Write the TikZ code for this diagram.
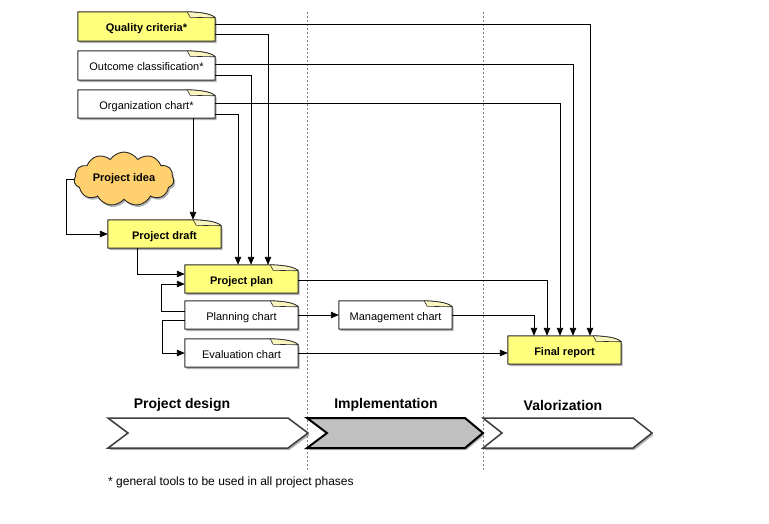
\documentclass[tikz,border=0pt]{standalone}
\usepackage{fontspec}
\setmainfont{Liberation Sans}
\usetikzlibrary{arrows.meta,shapes.symbols,shadows,backgrounds}
\definecolor{docyellow}{RGB}{255,255,125}
\definecolor{flapyellow}{RGB}{250,245,190}
\definecolor{cloudorange}{RGB}{255,208,110}
\definecolor{outline}{RGB}{40,40,40}
\definecolor{chevgray}{RGB}{192,192,192}
\tikzset{
  docnode/.style={draw=none, minimum width=113pt, minimum height=28pt, inner sep=0pt, text height=11pt, text depth=1pt, font=\fontsize{11}{13}\selectfont},
  bolddoc/.style={docnode, font=\fontsize{11}{13}\selectfont\bfseries},
  docline/.style={draw=outline, line width=1pt, line join=round},
  softshadow/.style={drop shadow={opacity=0.3, shadow xshift=1.5pt, shadow yshift=-2pt, fill=black}},
  arr/.style={draw=black, line width=0.9pt, -{Triangle[length=8pt,width=6.5pt]}},
  phase/.style={font=\fontsize{14}{16}\selectfont\bfseries, inner sep=0pt},
  chev/.style={draw=outline!90!white, line width=1.5pt, line join=miter, fill=white, softshadow},
  guide/.style={draw=gray, line width=0.8pt, dash pattern=on 2pt off 2pt}
}
\newcommand\drawdoc[2]{%
  \draw[docline, fill=#2, softshadow] (#1.south west) -- (#1.north west) -- ([xshift=-28pt]#1.north east)
    .. controls ([xshift=-14pt,yshift=-0.5pt]#1.north east) and ([xshift=-4pt,yshift=-2pt]#1.north east) .. ([yshift=-6pt]#1.north east)
    -- (#1.south east) -- cycle;
  \draw[draw=outline, line width=0.6pt, fill=flapyellow] ([xshift=-28pt]#1.north east) -- ([xshift=-25pt,yshift=-5.5pt]#1.north east) -- ([yshift=-6pt]#1.north east)
    .. controls ([xshift=-4pt,yshift=-2pt]#1.north east) and ([xshift=-14pt,yshift=-0.5pt]#1.north east) .. ([xshift=-28pt]#1.north east);
}
\begin{document}
\begin{tikzpicture}[x=1pt,y=-1pt]
\useasboundingbox (0,0) rectangle (769,523);
% nodes (text), outlines go on the background layer
\node[bolddoc, minimum width=137pt, minimum height=29pt] (qc) at (146.5,26.5) {Quality criteria*};
\node[docnode, minimum width=137pt, minimum height=29pt] (oc) at (146.5,65.5) {Outcome classification*};
\node[docnode, minimum width=137pt] (org) at (146.5,104) {Organization chart*};
\node[bolddoc] (draft) at (164.5,234) {Project draft};
\node[bolddoc] (plan) at (241.5,279) {Project plan};
\node[docnode] (planning) at (241.5,315) {Planning chart};
\node[docnode] (eval) at (241.5,353) {Evaluation chart};
\node[docnode] (mgmt) at (395.5,315) {Management chart};
\node[bolddoc] (final) at (564.5,350) {Final report};
\begin{pgfonlayer}{background}
% phase guides
\draw[guide] (307,12) -- (307,470);
\draw[guide] (483,12) -- (483,470);
\drawdoc{qc}{docyellow}
\drawdoc{oc}{white}
\drawdoc{org}{white}
\drawdoc{draft}{docyellow}
\drawdoc{plan}{docyellow}
\drawdoc{planning}{white}
\drawdoc{eval}{white}
\drawdoc{mgmt}{white}
\drawdoc{final}{docyellow}
\end{pgfonlayer}
% cloud
\node[cloud, cloud puffs=11, cloud puff arc=115, aspect=2.1, draw=outline, line width=0.9pt, fill=cloudorange,
      minimum width=100pt, minimum height=48pt, inner sep=0pt, softshadow,
      font=\fontsize{11}{13}\selectfont\bfseries] (idea) at (124,179) {Project idea};
% connectors
\draw[arr] (qc.east |- 0,24) -| (final.north -| 590,0);
\draw[arr] (qc.east |- 0,34) -| (plan.north -| 268,0);
\draw[arr] (oc.east |- 0,64) -| (final.north -| 573,0);
\draw[arr] (oc.east |- 0,75) -| (plan.north -| 251,0);
\draw[arr] (org.east |- 0,103) -| (final.north -| 560,0);
\draw[arr] (org.east |- 0,114) -| (plan.north -| 238,0);
\draw[arr] (org.south -| 193,0) -- (draft.north -| 193,0);
\draw[arr] (idea.west) -- (idea.west -| 66,0) |- (draft.west);
\draw[arr] (draft.south -| 137,0) |- (plan.west |- 0,274);
\draw[arr] (planning.west |- 0,311) -- (161,311) |- (plan.west |- 0,284);
\draw[arr] (planning.west |- 0,320) -- (162,320) |- (eval.west);
\draw[arr] (planning.east) -- (mgmt.west);
\draw[arr] (plan.east |- 0,280) -| (final.north -| 547,0);
\draw[arr] (mgmt.east) -| (final.north -| 534,0);
\draw[arr] (eval.east) -- (eval.east -| final.west);
% phases
\path[chev] (108,418) -- (288,418) -- (308,433) -- (288,448) -- (108,448) -- (128,433) -- cycle;
\path[chev] (483,418) -- (633,418) -- (652,433) -- (633,448) -- (483,448) -- (502,433) -- cycle;
\path[chev, draw=black, line width=2pt, fill=chevgray] (307,418) -- (465,418) -- (483,433) -- (465,448) -- (307,448) -- (327,433) -- cycle;
\node[phase] (pd) at (182,405) {Project design};
\node[phase] (impl) at (386,405) {Implementation};
\node[phase] (val) at (563,405) {Valorization};
\node[anchor=base west, inner sep=0pt, font=\fontsize{12}{14}\selectfont] (note) at (108,485) {* general tools to be used in all project phases};
\end{tikzpicture}
\end{document}
